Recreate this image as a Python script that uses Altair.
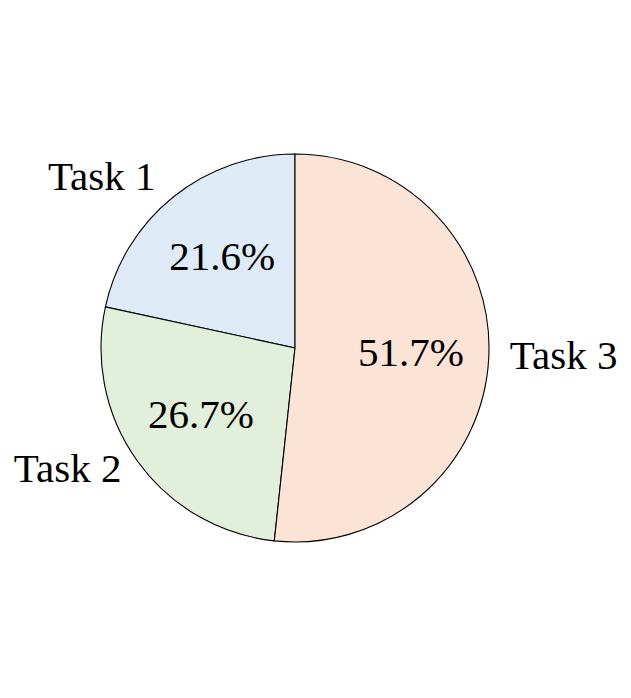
import altair as alt
import pandas as pd

tasks = ["Task 1", "Task 2", "Task 3"]
shares = [21.6, 26.7, 51.7]
clockwise_rank = [3, 2, 1]
colors = ["#DEEAF6", "#E2EFDA", "#FBE4D6"]

df = pd.DataFrame({"task": tasks, "share": shares, "rank": clockwise_rank})

FONT = "Liberation Serif"
FS = 41
R = 194

base = alt.Chart(df).transform_window(
    end="sum(share)", sort=[alt.SortField("rank")], frame=[None, 0]
).transform_calculate(
    start="datum.end - datum.share",
    mid="datum.end - datum.share / 2",
    pct="format(datum.share, '.1f') + '%'",
)

theta_scale = alt.Scale(domain=[0, 100], range=[0, 6.283185307179586])

arcs = base.mark_arc(outerRadius=R, stroke="black", strokeWidth=1.1).encode(
    theta=alt.Theta("start:Q", scale=theta_scale, stack=None),
    theta2="end:Q",
    color=alt.Color("task:N", scale=alt.Scale(domain=tasks, range=colors), legend=None),
)

pct = base.mark_text(font=FONT, fontSize=FS, color="black").encode(
    theta=alt.Theta("mid:Q", scale=theta_scale, stack=None),
    radius=alt.value(116),
    text="pct:N",
)

nudges = {"Task 1": (-32, 30), "Task 2": (-19, -28), "Task 3": (12, -5)}
label_layers = []
for t in tasks:
    dx, dy = nudges[t]
    label_layers.append(
        base.transform_filter(alt.datum.task == t)
        .mark_text(font=FONT, fontSize=FS, color="black", dx=dx, dy=dy)
        .encode(
            theta=alt.Theta("mid:Q", scale=theta_scale, stack=None),
            radius=alt.value(257),
            text="task:N",
        )
    )

chart = alt.layer(arcs, pct, *label_layers).properties(
    width=564, height=670
).configure_view(stroke=None).configure(background="white")

chart.save("out.html", embed_options={"renderer": "svg", "actions": False})
